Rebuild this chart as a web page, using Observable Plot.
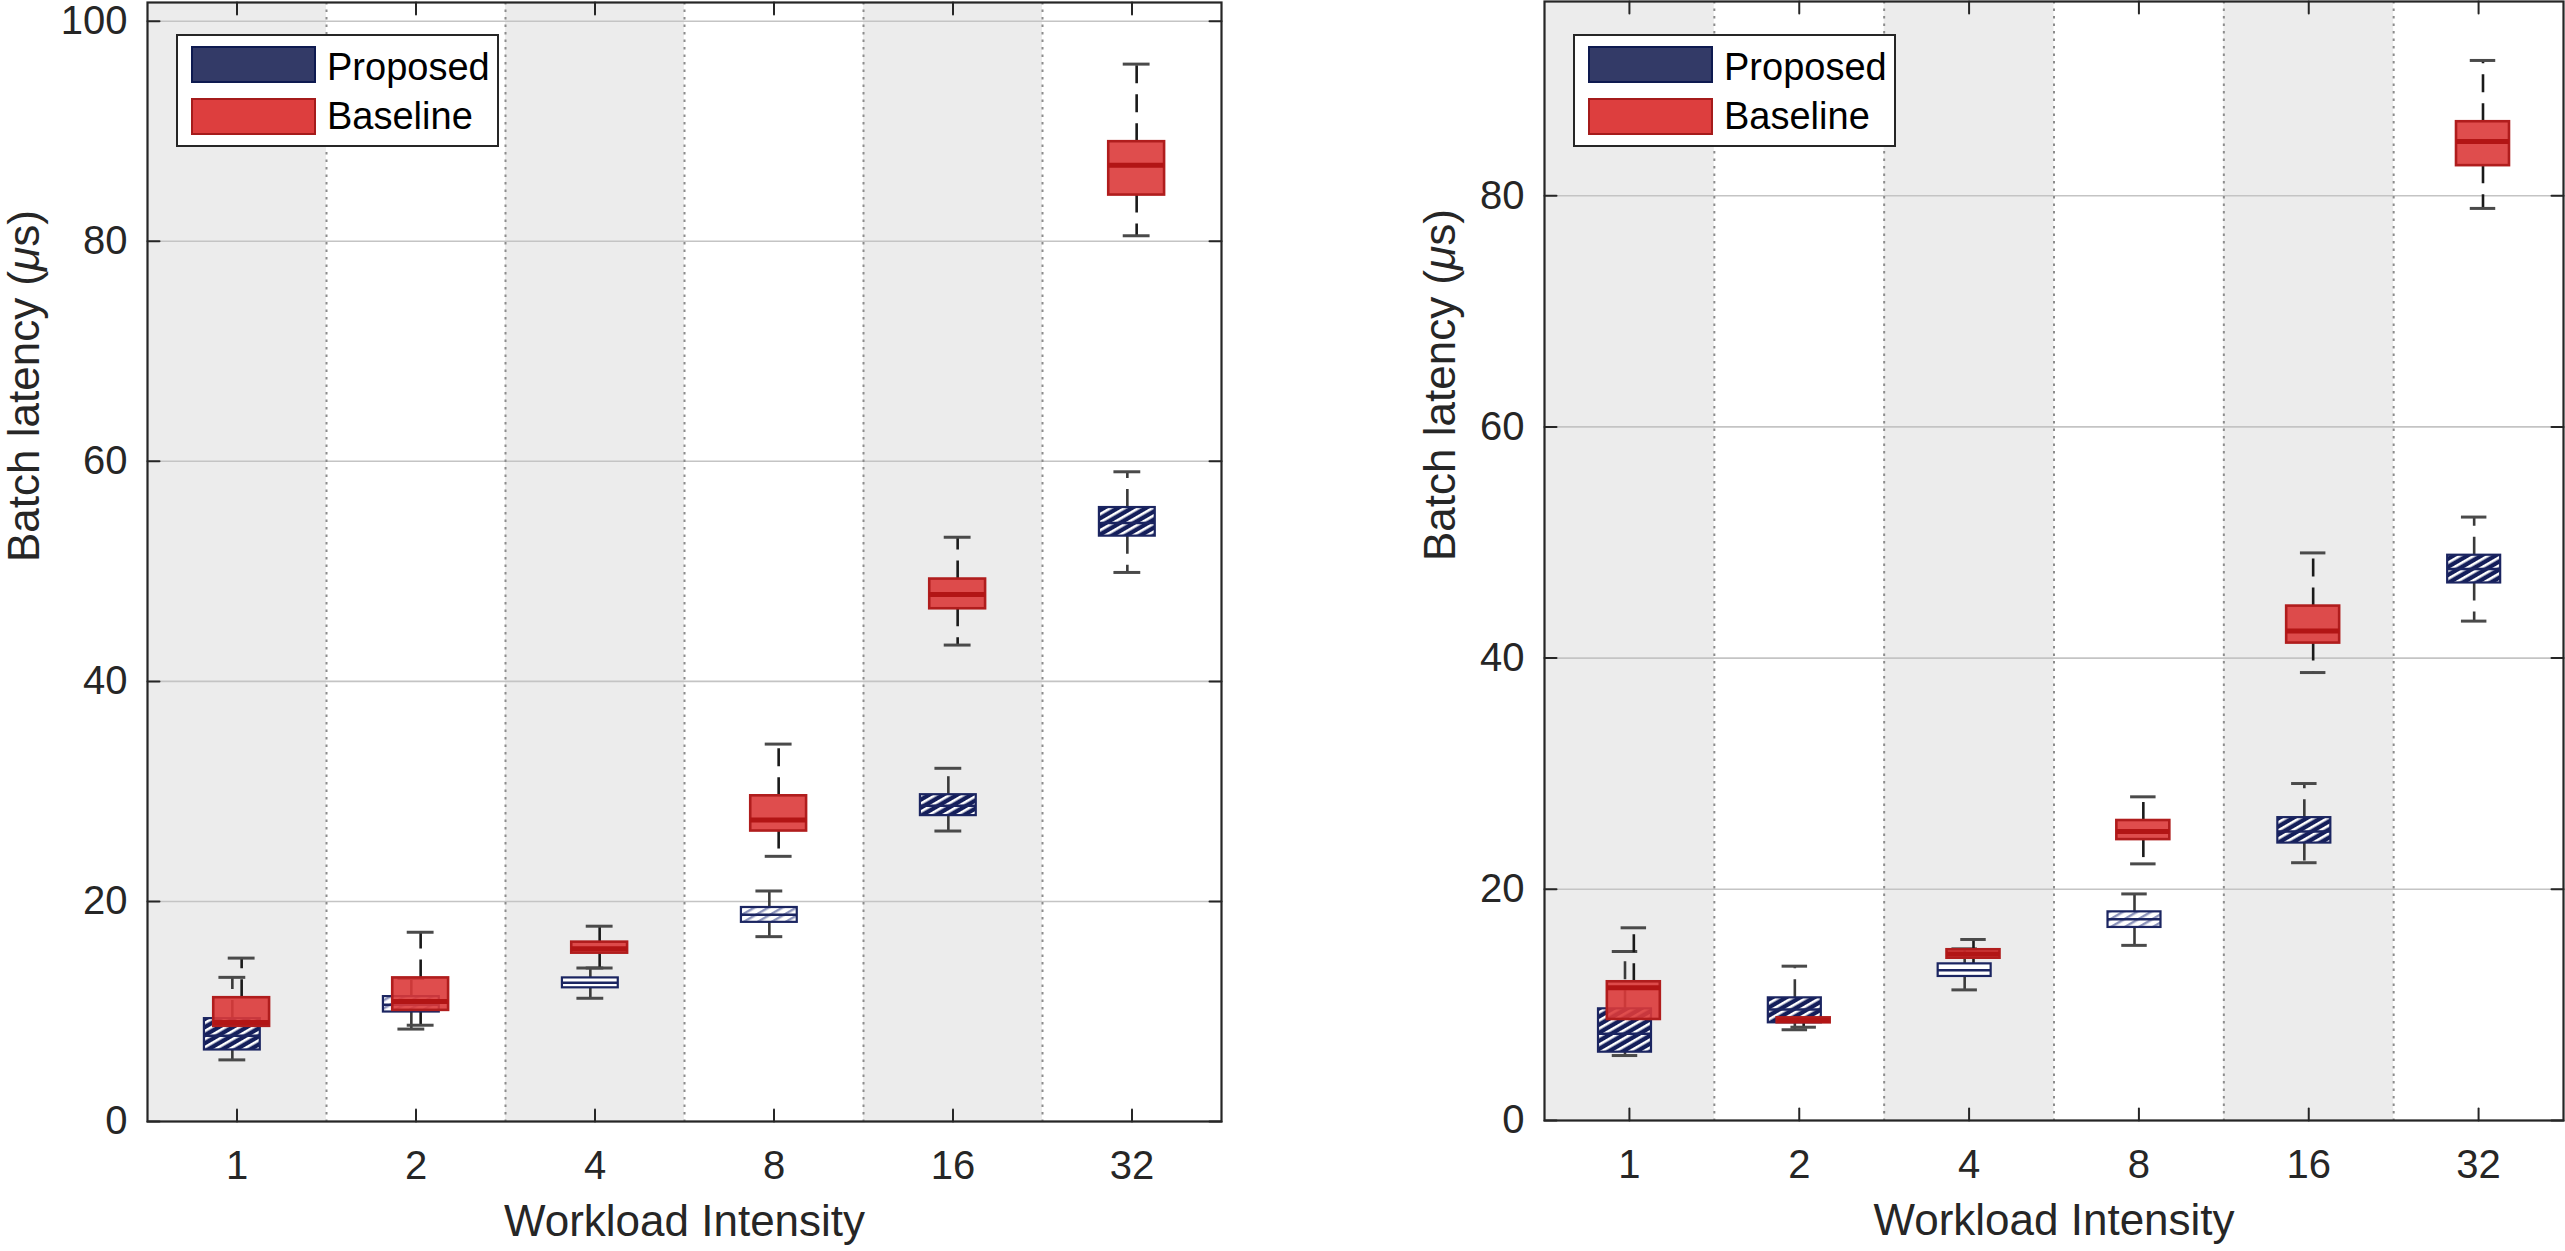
<!DOCTYPE html>
<html>
<head>
<meta charset="utf-8">
<script src="https://cdn.jsdelivr.net/npm/d3@7"></script>
<script src="https://cdn.jsdelivr.net/npm/@observablehq/plot@0.6"></script>
<style>
  body { margin: 0; background: #fff; font-family: "Liberation Sans", Arial, sans-serif; }
  #wrap { position: relative; width: 2565px; height: 1251px; overflow: hidden; }
  .panel { position: absolute; top: 0; }
  .legend { position: absolute; background: #fff; border: 2px solid #262626; box-sizing: border-box; width: 323px; height: 113px; }
  .sw { position: absolute; left: 13px; width: 125px; height: 37px; box-sizing: border-box; }
  .lt { position: absolute; left: 149px; font-size: 38px; line-height: 38px; color: #000; white-space: nowrap; }
</style>
</head>
<body>
<div id="wrap"></div>
<script>
// ---------- data ----------
const categories = ["1", "2", "4", "8", "16", "32"];
const shadedCategories = ["1", "4", "16"];
const yTicksLeft = [0, 20, 40, 60, 80, 100];
const yTicksRight = [0, 20, 40, 60, 80];
const seriesNames = ["Proposed", "Baseline"];

// Left panel – Proposed
const leftProposedLow    = [5.6, 8.4, 11.2, 16.8, 26.4, 49.9];
const leftProposedQ1     = [6.5, 9.95, 12.15, 18.1, 27.8, 53.2];
const leftProposedMedian = [7.8, 10.6, 12.6, 18.8, 28.7, 54.4];
const leftProposedQ3     = [9.35, 11.35, 13.05, 19.45, 29.7, 55.8];
const leftProposedHigh   = [13.1, 13.0, 13.95, 20.95, 32.1, 59.05];
// Left panel – Baseline
const leftBaselineLow    = [7.6, 8.75, 13.95, 24.1, 43.3, 80.5];
const leftBaselineQ1     = [8.65, 10.1, 15.3, 26.4, 46.6, 84.2];
const leftBaselineMedian = [9.0, 10.9, 15.7, 27.4, 47.9, 86.9];
const leftBaselineQ3     = [11.25, 13.05, 16.3, 29.6, 49.3, 89.05];
const leftBaselineHigh   = [14.85, 17.2, 17.75, 34.3, 53.1, 96.1];

// Right panel – Proposed
const rightProposedLow    = [5.62, 7.85, 11.3, 15.15, 22.3, 43.2];
const rightProposedQ1     = [5.91, 8.45, 12.46, 16.7, 24.0, 46.5];
const rightProposedMedian = [7.5, 9.6, 13.0, 17.4, 25.0, 47.7];
const rightProposedQ3     = [9.66, 10.61, 13.55, 18.05, 26.2, 48.9];
const rightProposedHigh   = [14.62, 13.35, 14.85, 19.6, 29.15, 52.2];
// Right panel – Baseline
const rightBaselineLow    = [7.8, 8.07, 13.5, 22.2, 38.75, 78.9];
const rightBaselineQ1     = [8.74, 8.45, 14.04, 24.3, 41.3, 82.6];
const rightBaselineMedian = [11.48, 8.65, 14.4, 25.0, 42.35, 84.7];
const rightBaselineQ3     = [12.0, 8.88, 14.77, 25.95, 44.5, 86.4];
const rightBaselineHigh   = [16.67, 9.3, 15.66, 28.0, 49.1, 91.7];

const yLabel = "Batch latency (μs)";
const xLabel = "Workload Intensity";

// ---------- helpers ----------
function rows(lo, q1, med, q3, hi) {
  return categories.map((c, k) => ({ cat: c, i: k + 1, lo: lo[k], q1: q1[k], med: med[k], q3: q3[k], hi: hi[k] }));
}

const INK = "#262626";
const OFF = 0.026;   // horizontal offset of each series from the category centre (band units)
const HW = 0.156;    // half box width
const CAP = 0.075;   // half cap width

function panel({ prop, base, yMax, yTicks, width, marginLeft, marginRight, marginTop, marginBottom, labelDx, pid }) {
  const n = categories.length;
  const xTicks = categories.map((c, k) => k + 1);
  const separators = d3.range(1, n).map(k => k + 0.5);
  const shade = categories.map((c, k) => ({ c, i: k + 1 })).filter(d => shadedCategories.includes(d.c));
  const xmin = 0.5, xmax = n + 0.5;
  const pc = d => d.i - OFF, bc = d => d.i + OFF;
  const tick = { draw(ctx, l) { ctx.moveTo(0, 0); ctx.lineTo(0, -l); } };
  const propFill = d => (d.q3 - d.q1) < 1.2 ? "#ffffff" : (d.q3 - d.q1) < 1.6 ? `url(#${pid}-light)` : `url(#${pid}-dark)`;
  const propDash = d => (d.q3 - d.q1) < 1.2 ? "7,3" : null;

  const whisk = (data, c, stroke) => [
    Plot.ruleX(data, { x: c, y1: "q3", y2: "hi", stroke, strokeWidth: 2.6, strokeDasharray: "18,11" }),
    Plot.ruleX(data, { x: c, y1: "q1", y2: "lo", stroke, strokeWidth: 2.6, strokeDasharray: "18,11" }),
    Plot.ruleY(data, { y: "hi", x1: d => c(d) - CAP, x2: d => c(d) + CAP, stroke: "#4a4a4a", strokeWidth: 3 }),
    Plot.ruleY(data, { y: "lo", x1: d => c(d) - CAP, x2: d => c(d) + CAP, stroke: "#4a4a4a", strokeWidth: 3 })
  ];

  const svg = Plot.plot({
    width, height: 1251, marginLeft, marginRight, marginTop, marginBottom,
    style: { fontFamily: '"Liberation Sans", Arial, sans-serif', fontSize: "40px", color: INK, background: "transparent", overflow: "visible" },
    x: { type: "linear", domain: [xmin, xmax] },
    y: { type: "linear", domain: [0, yMax] },
    marks: [
      Plot.rect(shade, { x1: d => d.i - 0.5, x2: d => d.i + 0.5, y1: 0, y2: yMax, fill: "#ececec" }),
      Plot.ruleY(yTicks, { stroke: "#c4c4c4", strokeWidth: 1.6 }),
      Plot.ruleX(separators, { stroke: "#8c8c8c", strokeWidth: 2, strokeDasharray: "2.5,5" }),
      ...whisk(prop, pc, "#3a3a3a"),
      ...whisk(base, bc, "#1a1a1a"),
      Plot.rect(prop, { x1: d => pc(d) - HW, x2: d => pc(d) + HW, y1: "q1", y2: "q3", fill: propFill, stroke: "#1b2561", strokeWidth: 2.2, strokeDasharray: propDash }),
      Plot.ruleY(prop, { y: "med", x1: d => pc(d) - HW, x2: d => pc(d) + HW, stroke: "#1b2561", strokeWidth: 2.5 }),
      Plot.rect(base, { x1: d => bc(d) - HW, x2: d => bc(d) + HW, y1: "q1", y2: "q3", fill: "#dc3a3a", fillOpacity: 0.9, stroke: "#b01d1d", strokeWidth: 2.6 }),
      Plot.ruleY(base, { y: "med", x1: d => bc(d) - HW, x2: d => bc(d) + HW, stroke: "#b21515", strokeWidth: 5 }),
      Plot.frame({ stroke: INK, strokeWidth: 2.2 }),
      Plot.vector(xTicks, { x: d => d, y: 0, length: 12, rotate: 0, anchor: "start", shape: tick, stroke: INK, strokeWidth: 2 }),
      Plot.vector(xTicks, { x: d => d, y: yMax, length: 12, rotate: 180, anchor: "start", shape: tick, stroke: INK, strokeWidth: 2 }),
      Plot.vector(yTicks, { x: xmin, y: d => d, length: 12, rotate: 90, anchor: "start", shape: tick, stroke: INK, strokeWidth: 2 }),
      Plot.vector(yTicks, { x: xmax, y: d => d, length: 12, rotate: -90, anchor: "start", shape: tick, stroke: INK, strokeWidth: 2 }),
      Plot.axisX({ ticks: xTicks, tickFormat: d => categories[d - 1], tickSize: 0, tickPadding: 29, fontSize: 40, label: null, fill: INK }),
      Plot.axisY({ ticks: yTicks, tickFormat: d => String(d), tickSize: 0, tickPadding: 20, fontSize: 40, label: null, fill: INK }),
      Plot.text([xLabel], { frameAnchor: "bottom", dy: 114, fontSize: 44, fill: INK }),
      Plot.text([yLabel], { frameAnchor: "left", dx: labelDx, rotate: -90, fontSize: 44, fill: INK })
    ]
  });

  svg.insertAdjacentHTML("afterbegin", `<defs>
    <pattern id="${pid}-dark" width="7" height="7" patternUnits="userSpaceOnUse" patternTransform="rotate(-30)">
      <rect width="7" height="7" fill="#141e5a"></rect>
      <rect width="7" height="2.6" fill="#ffffff"></rect>
    </pattern>
    <pattern id="${pid}-light" width="7" height="7" patternUnits="userSpaceOnUse" patternTransform="rotate(-30)">
      <rect width="7" height="7" fill="#ffffff"></rect>
      <rect width="7" height="2.4" fill="#8c93bb"></rect>
    </pattern>
  </defs>`);

  // italic mu, as in the TeX label
  svg.querySelectorAll("text").forEach(t => {
    if (t.textContent === yLabel) {
      const [a, b] = yLabel.split("μ");
      t.textContent = "";
      t.append(document.createTextNode(a));
      const ts = document.createElementNS("http://www.w3.org/2000/svg", "tspan");
      ts.setAttribute("font-style", "italic");
      ts.textContent = "μ";
      t.append(ts);
      t.append(document.createTextNode(b));
    }
  });
  return svg;
}

function legend(left) {
  const d = document.createElement("div");
  d.className = "legend";
  d.style.left = left + "px";
  d.style.top = "34px";
  d.innerHTML = `
    <div class="sw" style="top:10px;background:#333a67;border:2px solid #0e1a50"></div>
    <div class="lt" style="top:12px">${seriesNames[0]}</div>
    <div class="sw" style="top:62px;background:#dd3e3e;border:2px solid #a51b1b"></div>
    <div class="lt" style="top:61px">${seriesNames[1]}</div>`;
  return d;
}

const wrap = document.getElementById("wrap");

const left = panel({
  prop: rows(leftProposedLow, leftProposedQ1, leftProposedMedian, leftProposedQ3, leftProposedHigh),
  base: rows(leftBaselineLow, leftBaselineQ1, leftBaselineMedian, leftBaselineQ3, leftBaselineHigh),
  yMax: 101.7, yTicks: yTicksLeft, width: 1250, marginLeft: 147, marginRight: 29, marginTop: 2, marginBottom: 130,
  labelDx: -123, pid: "pl"
});
left.classList.add("panel");
left.style.left = "0px";
wrap.appendChild(left);

const right = panel({
  prop: rows(rightProposedLow, rightProposedQ1, rightProposedMedian, rightProposedQ3, rightProposedHigh),
  base: rows(rightBaselineLow, rightBaselineQ1, rightBaselineMedian, rightBaselineQ3, rightBaselineHigh),
  yMax: 96.8, yTicks: yTicksRight, width: 1315, marginLeft: 294, marginRight: 2, marginTop: 1, marginBottom: 131,
  labelDx: -104, pid: "pr"
});
right.classList.add("panel");
right.style.left = "1250px";
wrap.appendChild(right);

wrap.appendChild(legend(176));
wrap.appendChild(legend(1573));
</script>
</body>
</html>
